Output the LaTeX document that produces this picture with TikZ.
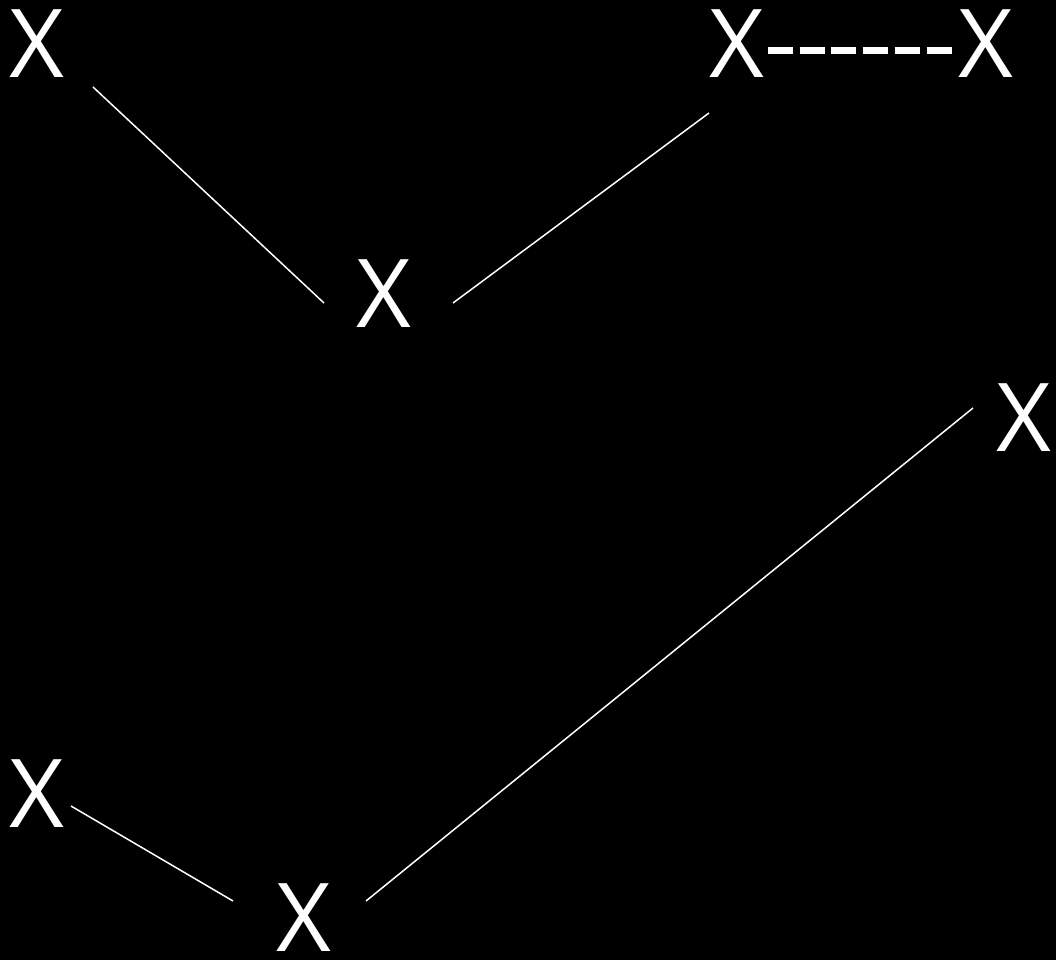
\documentclass[tikz,border=0pt]{standalone}
\usepackage{fontspec}
\setmainfont{Open Sans}
\begin{document}
\begin{tikzpicture}[x=1pt,y=-1pt,
  lbl/.style={text=white,inner sep=0pt,font=\fontsize{95}{95}\selectfont},
  edge/.style={draw=white,line width=1.5pt},
  dashedge/.style={draw=white,line width=7pt,dash pattern=on 25pt off 6.7pt}]
\fill[black] (0,0) rectangle (1056,960);
\useasboundingbox (0,0) rectangle (1056,960);
\node[lbl] (A) at (37,44) {X};
\node[lbl] (B) at (384,294) {X};
\node[lbl] (C) at (737,44) {X};
\node[lbl] (D) at (986,44) {X};
\node[lbl] (E) at (1024,418) {X};
\node[lbl] (F) at (37,794) {X};
\node[lbl] (G) at (304,918) {X};
\draw[edge] ([shift={(56,43)}]A.center) -- ([shift={(-60,9)}]B.center);
\draw[edge] ([shift={(69,9)}]B.center) -- ([shift={(-28,69)}]C.center);
\draw[dashedge] ([shift={(31,6.5)}]C.center) -- ([shift={(-32,6.5)}]D.center);
\draw[edge] ([shift={(-51,-10)}]E.center) -- ([shift={(62,-17)}]G.center);
\draw[edge] ([shift={(34,12)}]F.center) -- ([shift={(-71,-17)}]G.center);
\end{tikzpicture}
\end{document}
